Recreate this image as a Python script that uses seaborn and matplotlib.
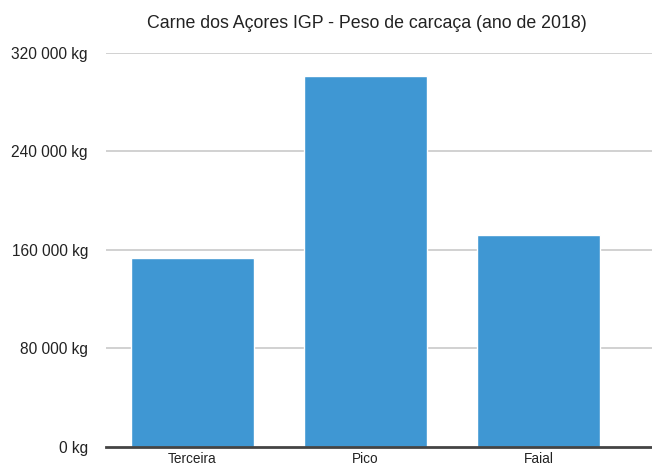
import matplotlib
matplotlib.use("Agg")
import matplotlib.pyplot as plt
import seaborn as sns
import pandas as pd
from matplotlib.ticker import FuncFormatter

categories = ["Terceira", "Pico", "Faial"]
values = [153200, 301600, 172100]
yticks = [0, 80000, 160000, 240000, 320000]

sns.set_theme(style="white")
plt.rcParams['font.family'] = ['Liberation Sans', 'DejaVu Sans']

df = pd.DataFrame({"ilha": categories, "peso": values})

fig = plt.figure(figsize=(6.52, 4.68), dpi=100)
ax = fig.add_axes([106/652, 1-446.7/468, (652-106)/652, (446.7-53)/468])

for t in yticks[1:]:
    ax.axhline(t, color="#c9c9c9", lw=1.2, zorder=0)

sns.barplot(data=df, x="ilha", y="peso", color="#3f97d3", saturation=1,
            width=0.711, ax=ax, zorder=2)

ax.set_xlim(-0.5, (652-192.7)/173)
ax.set_ylim(0, 320000)
ax.set_yticks(yticks)
ax.yaxis.set_major_formatter(FuncFormatter(lambda v, p: f"{int(v):,} kg".replace(",", " ")))
ax.set_xlabel("")
ax.set_ylabel("")
for s in ["top", "right", "left"]:
    ax.spines[s].set_visible(False)
ax.spines["bottom"].set_color("#444444")
ax.spines["bottom"].set_linewidth(2)
ax.spines["bottom"].set_zorder(3)
ax.tick_params(axis="y", length=0, pad=13, labelsize=11.2, labelcolor="#222222")
ax.tick_params(axis="x", length=0, pad=4, labelsize=9.8, labelcolor="#222222")
ax.set_title("Carne dos Açores IGP - Peso de carcaça (ano de 2018)", fontsize=12.8,
             color="#222222", pad=18, x=(367-106)/546)

fig.savefig("out.png", dpi=100)
